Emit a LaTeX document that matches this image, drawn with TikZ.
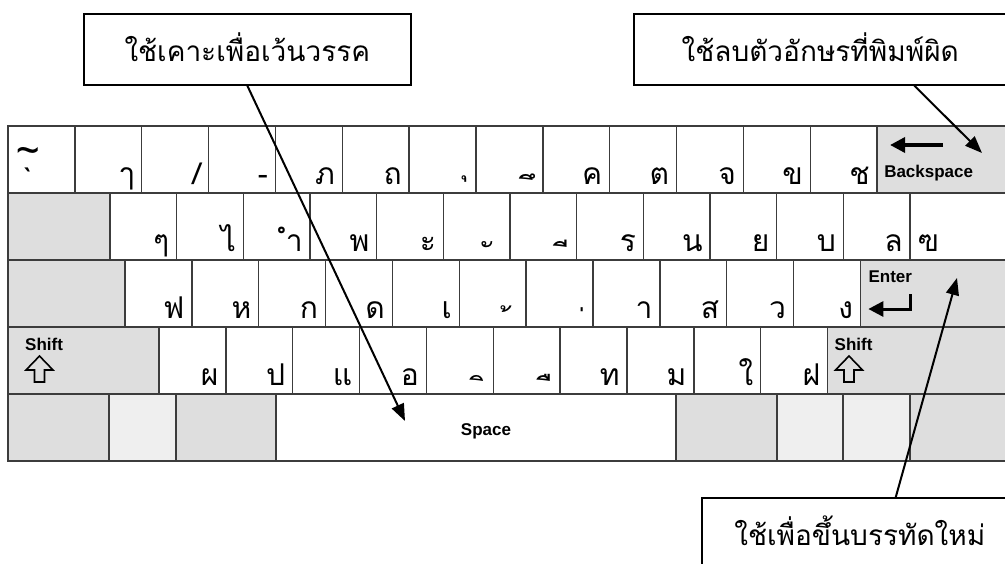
\documentclass[tikz,border=0pt]{standalone}
\usepackage{fontspec}
\usetikzlibrary{positioning, arrows.meta}
\newfontfamily\thaifont[Script=Thai]{Loma}
\newfontfamily\keyfont{Liberation Sans}
\definecolor{keyline}{HTML}{3C3C3C}
\definecolor{keygrey}{HTML}{DEDEDE}
\definecolor{keylight}{HTML}{EFEFEF}
\newcommand{\keymark}[2]{\makebox[14pt][r]{\raisebox{#1}{#2}}}
\tikzset{%
  key/.style={draw=keyline, line width=1.4pt, fill=white, inner sep=0pt, outer sep=0pt,
    minimum width=66.85pt, minimum height=67pt, text width=52pt, align=right,
    text height=58pt, text depth=9pt, font=\thaifont\fontsize{30}{30}\selectfont},
  greykey/.style={key, fill=keygrey},
  lightkey/.style={key, fill=keylight},
  keylabel/.style={font=\keyfont\bfseries\fontsize{17}{17}\selectfont, inner sep=0pt, anchor=base west},
  note/.style={draw, line width=1.6pt, fill=white, inner sep=0pt, minimum height=71pt,
    text height=27pt, text depth=3pt, font=\thaifont\fontsize{28}{28}\selectfont},
  pointer/.style={line width=2pt, -{Triangle[length=17pt, width=13pt]}},
  iconarrow/.style={line width=3.5pt, -{Triangle[length=15pt, width=15pt]}},
  shiftarrow/.style={line width=1.6pt, line join=miter}
}
\begin{document}
\begin{tikzpicture}[x=1pt, y=-1pt]
\useasboundingbox (0,0) rectangle (1005,563);
\clip (0,0) rectangle (1005,563);

\node[key, anchor=north west] (a0) at (8,126) {};
\node[key, right=0pt of a0] (a1) {ๅ};
\node[key, right=0pt of a1] (a2) {/};
\node[key, right=0pt of a2] (a3) {-};
\node[key, right=0pt of a3] (a4) {ภ};
\node[key, right=0pt of a4] (a5) {ถ};
\node[key, right=0pt of a5] (a6) {\keymark{10pt}{ุ}};
\node[key, right=0pt of a6] (a7) {\keymark{-14pt}{ึ}};
\node[key, right=0pt of a7] (a8) {ค};
\node[key, right=0pt of a8] (a9) {ต};
\node[key, right=0pt of a9] (a10) {จ};
\node[key, right=0pt of a10] (a11) {ข};
\node[key, right=0pt of a11] (a12) {ช};
\node[greykey, right=0pt of a12, minimum width=134pt] (a13) {};
\node[inner sep=0pt, anchor=base, text height=28pt, text depth=0pt, font=\thaifont\fontsize{40}{40}\selectfont] (tilde) at ([shift={(20,38)}]a0.north west) {\textasciitilde};
\node[inner sep=0pt, anchor=base, text height=20pt, text depth=0pt, font=\thaifont\fontsize{30}{30}\selectfont] (grave) at ([shift={(20,63)}]a0.north west) {\textasciigrave};

\node[greykey, minimum width=102pt, anchor=north west] (b0) at (a0.south west) {};
\node[key, minimum width=66.67pt, right=0pt of b0] (b1) {ๆ};
\node[key, minimum width=66.67pt, right=0pt of b1] (b2) {ไ};
\node[key, minimum width=66.67pt, right=0pt of b2] (b3) {ำ};
\node[key, minimum width=66.67pt, right=0pt of b3] (b4) {พ};
\node[key, minimum width=66.67pt, right=0pt of b4] (b5) {ะ};
\node[key, minimum width=66.67pt, right=0pt of b5] (b6) {\keymark{-14pt}{ั}\kern10pt};
\node[key, minimum width=66.67pt, right=0pt of b6] (b7) {\keymark{-14pt}{ี}};
\node[key, minimum width=66.67pt, right=0pt of b7] (b8) {ร};
\node[key, minimum width=66.67pt, right=0pt of b8] (b9) {น};
\node[key, minimum width=66.67pt, right=0pt of b9] (b10) {ย};
\node[key, minimum width=66.67pt, right=0pt of b10] (b11) {บ};
\node[key, minimum width=66.67pt, right=0pt of b11] (b12) {ล};
\node[key, minimum width=101pt, text width=86pt, align=left, right=0pt of b12] (b13) {ฃ};

\node[greykey, minimum width=117pt, anchor=north west] (c0) at (b0.south west) {};
\node[key, right=0pt of c0] (c1) {ฟ};
\node[key, right=0pt of c1] (c2) {ห};
\node[key, right=0pt of c2] (c3) {ก};
\node[key, right=0pt of c3] (c4) {ด};
\node[key, right=0pt of c4] (c5) {เ};
\node[key, right=0pt of c5] (c6) {\keymark{-19pt}{้}\kern8pt};
\node[key, right=0pt of c6] (c7) {\keymark{-20pt}{่}};
\node[key, right=0pt of c7] (c8) {า};
\node[key, right=0pt of c8] (c9) {ส};
\node[key, right=0pt of c9] (c10) {ว};
\node[key, right=0pt of c10] (c11) {ง};
\node[greykey, right=0pt of c11, minimum width=151pt] (c12) {};

\node[greykey, minimum width=151pt, anchor=north west] (d0) at (c0.south west) {};
\node[key, right=0pt of d0] (d1) {ผ};
\node[key, right=0pt of d1] (d2) {ป};
\node[key, right=0pt of d2] (d3) {แ};
\node[key, right=0pt of d3] (d4) {อ};
\node[key, right=0pt of d4] (d5) {\keymark{-14pt}{ิ}};
\node[key, right=0pt of d5] (d6) {\keymark{-14pt}{ื}};
\node[key, right=0pt of d6] (d7) {ท};
\node[key, right=0pt of d7] (d8) {ม};
\node[key, right=0pt of d8] (d9) {ใ};
\node[key, right=0pt of d9] (d10) {ฝ};
\node[greykey, right=0pt of d10, minimum width=184pt] (d11) {};

\node[greykey, minimum width=101pt, anchor=north west] (e0) at (d0.south west) {};
\node[lightkey, minimum width=67pt, right=0pt of e0] (e1) {};
\node[greykey, minimum width=100pt, right=0pt of e1] (e2) {};
\node[key, minimum width=400pt, right=0pt of e2] (e3) {};
\node[greykey, minimum width=101pt, right=0pt of e3] (e4) {};
\node[lightkey, minimum width=66pt, right=0pt of e4] (e5) {};
\node[lightkey, minimum width=67pt, right=0pt of e5] (e6) {};
\node[greykey, minimum width=101pt, right=0pt of e6] (e7) {};

\draw[iconarrow] ([shift={(66,19)}]a13.north west) -- ([shift={(13,19)}]a13.north west);
\node[keylabel] (bkslabel) at ([shift={(7,51)}]a13.north west) {Backspace};
\node[keylabel] (enterlabel) at ([shift={(8,22)}]c12.north west) {Enter};
\draw[iconarrow, line width=3pt] ([shift={(50,34)}]c12.north west) -- ++(0,15) -- ([shift={(8,49)}]c12.north west);
\node[keylabel] (lshiftlabel) at ([shift={(17,23)}]d0.north west) {Shift};
\draw[shiftarrow] ([shift={(31.5,29)}]d0.north west) -- ++(13.5,14) -- ++(-8.5,0) -- ++(0,12) -- ++(-10,0) -- ++(0,-12) -- ++(-8.5,0) -- cycle;
\node[keylabel] (rshiftlabel) at ([shift={(7,23)}]d11.north west) {Shift};
\draw[shiftarrow] ([shift={(21.5,29)}]d11.north west) -- ++(13.5,14) -- ++(-8.5,0) -- ++(0,12) -- ++(-10,0) -- ++(0,-12) -- ++(-8.5,0) -- cycle;
\node[keylabel, anchor=base] (spacelabel) at ([shift={(10,8)}]e3.center) {Space};

\node[note, minimum width=327pt, anchor=north west] (spacenote) at (83,13) {ใช้เคาะเพื่อเว้นวรรค};
\node[note, minimum width=373pt, anchor=north west] (bksnote) at (633,13) {ใช้ลบตัวอักษรที่พิมพ์ผิด};
\node[note, minimum width=316pt, anchor=north west] (enternote) at (701,497) {ใช้เพื่อขึ้นบรรทัดใหม่};
\coordinate (spacetip) at (405,421);
\coordinate (bkstip) at (982,153);
\coordinate (entertip) at (957,278);
\draw[pointer] (spacenote.south) -- (spacetip);
\draw[pointer] ([xshift=94pt]bksnote.south) -- (bkstip);
\draw[pointer] ([xshift=36pt]enternote.north) -- (entertip);

\end{tikzpicture}
\end{document}
